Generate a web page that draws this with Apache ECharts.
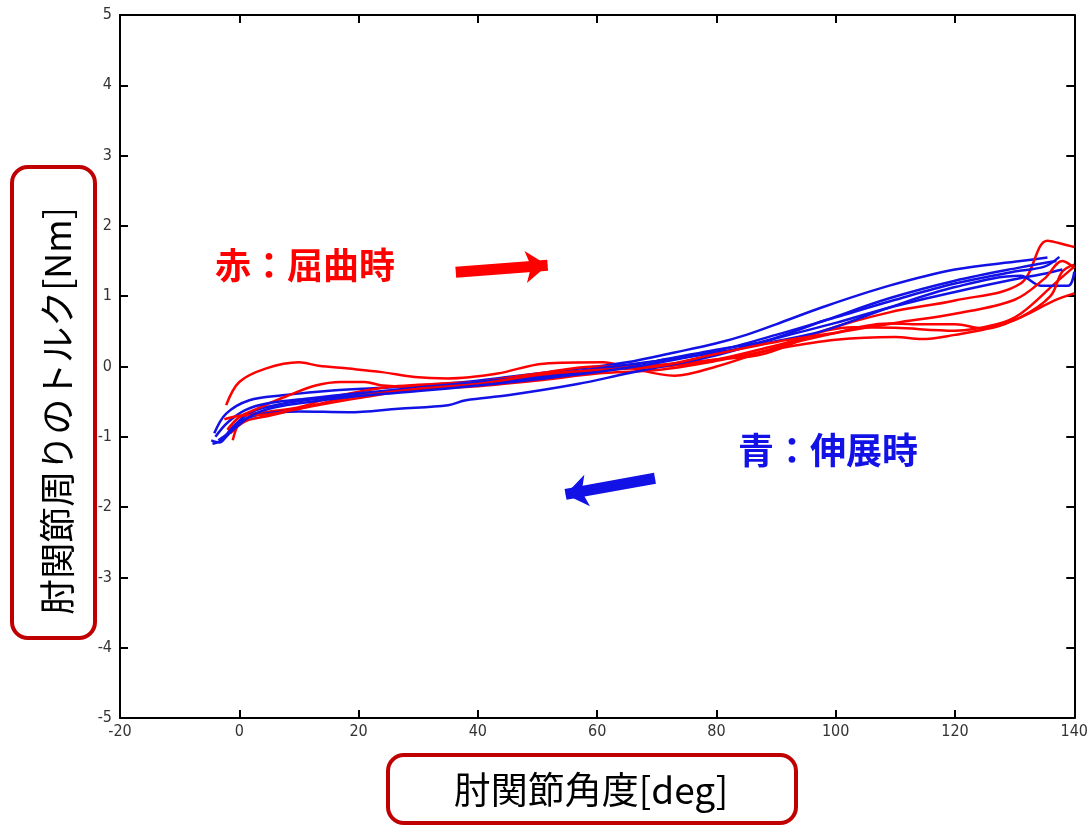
<!DOCTYPE html>
<html><head><meta charset="utf-8">
<script src="https://cdn.jsdelivr.net/npm/echarts@6/dist/echarts.min.js"></script>
<style>html,body{margin:0;padding:0;background:#fff}#c{width:1091px;height:826px}</style>
</head><body><div id="c"></div>
<script>
// ---- data (angle [deg], torque [Nm]) ----
const blue1 = [[-4.2,-0.95],[-2.2,-0.67],[1.7,-0.48],[7.2,-0.41],[15.6,-0.34],[26.7,-0.29],[37.8,-0.22],[45,-0.15],[55,-0.05],[65,0.06],[73,0.2],[80,0.33],[85,0.45],[90,0.6],[98,0.85],[109,1.15],[120,1.38],[131,1.5],[135.5,1.55]];
const blue2 = [[-4.5,-1.1],[-3,-1.05],[-1,-0.85],[2,-0.65],[6,-0.55],[12,-0.47],[20,-0.4],[30,-0.33],[40,-0.25],[50,-0.16],[60,-0.06],[70,0.08],[80,0.24],[88,0.36],[98,0.65],[109,0.97],[120,1.22],[131,1.41],[137,1.5]];
const blue3 = [[-4,-1.0],[-2,-0.8],[1,-0.62],[5,-0.52],[12,-0.45],[20,-0.38],[30,-0.3],[40,-0.22],[50,-0.13],[60,-0.03],[70,0.08],[80,0.2],[90,0.36],[98,0.51],[109,0.84],[120,1.13],[131,1.29],[134.4,1.15],[139,1.15],[140,1.35]];
const blue4 = [[-4.7,-1.05],[-3.3,-1.08],[-2.2,-1.0],[0.5,-0.77],[4.4,-0.67],[10,-0.64],[18.3,-0.65],[26.7,-0.6],[35,-0.55],[38,-0.48],[45,-0.41],[56.7,-0.25],[65,-0.1],[73.3,0.04],[80,0.16],[90,0.4],[100,0.62],[110,0.86],[120,1.06],[130,1.24],[135,1.32],[138,1.38]];
const blue5 = [[-3.5,-1.05],[-1,-0.9],[2,-0.7],[6,-0.58],[12,-0.5],[20,-0.42],[30,-0.35],[40,-0.27],[50,-0.18],[60,-0.08],[70,0.05],[80,0.22],[90,0.45],[100,0.7],[110,0.95],[120,1.18],[130,1.35],[135,1.42],[137.5,1.56]];
const red1 = [[-2.2,-0.55],[0,-0.22],[4.4,-0.03],[10,0.06],[13.3,0.01],[18.3,-0.03],[23.9,-0.08],[29.4,-0.15],[35,-0.17],[43.3,-0.1],[51,0.04],[61,0.06],[65,-0.01],[73,-0.13],[80,0.0],[90,0.27],[98,0.44],[109,0.61],[115,0.6],[120,0.6],[125,0.54],[131,0.7],[136.7,0.94],[140,1.04]];
const red2 = [[-1.1,-1.05],[0.6,-0.72],[4.4,-0.65],[10,-0.58],[15,-0.45],[20,-0.36],[25,-0.29],[30,-0.26],[37,-0.23],[43,-0.22],[50,-0.15],[60,-0.05],[70,0.02],[80,0.1],[88,0.18],[98,0.51],[109,0.77],[120,0.94],[131,1.18],[135.5,1.79],[139,1.72],[140,1.7]];
const red3 = [[-2,-0.9],[0,-0.72],[3,-0.6],[8,-0.42],[12.8,-0.27],[17,-0.22],[21,-0.22],[24,-0.27],[30,-0.29],[40,-0.22],[50,-0.1],[60,0.0],[70,0.0],[80,0.1],[90,0.3],[103,0.56],[110,0.55],[120,0.51],[127,0.6],[131,0.75],[137,1.2],[140,1.42]];
const red4 = [[-1.5,-0.95],[1,-0.78],[5,-0.7],[10,-0.6],[15,-0.5],[20,-0.42],[30,-0.32],[40,-0.28],[50,-0.2],[60,-0.1],[70,-0.05],[80,0.08],[90,0.25],[100,0.38],[110,0.42],[114.4,0.39],[120,0.45],[125.5,0.54],[131,0.7],[136,1.0],[138,1.35],[140,1.45]];
const red5 = [[-2.5,-0.75],[0,-0.7],[5,-0.68],[10,-0.6],[20,-0.45],[30,-0.32],[40,-0.25],[50,-0.12],[60,-0.05],[70,0.0],[80,0.18],[90,0.35],[100,0.48],[110,0.62],[120,0.75],[130,0.95],[135,1.25],[138,1.5],[140,1.4]];
const redCurves = [red1, red2, red3, red4, red5];
const blueCurves = [blue1, blue2, blue3, blue4, blue5];
const redArrow = [[36.3, 1.34], [51.7, 1.44]];
const blueArrow = [[69.7, -1.59], [54.7, -1.82]];
const xTitle = '肘関節角度[deg]';
const yTitle = '肘関節周りのトルク[Nm]';
const redNote = '赤：屈曲時';
const blueNote = '青：伸展時';

const RED = '#ff0000', BLUE = '#1212e6', BOX = '#c00000';
const chart = echarts.init(document.getElementById('c'));
const tickFont = {fontFamily: '"DejaVu Sans Condensed","Liberation Sans Narrow",sans-serif', fontSize: 16, color: '#333'};
const axisLine = {show: true, onZero: false, lineStyle: {color: '#000', width: 2}};
const axisTick = {show: true, inside: true, length: 8, lineStyle: {color: '#000', width: 2}};
const titleFont = '36px "Noto Sans CJK JP", sans-serif';
const noteFont = 'bold 36px "Noto Sans CJK JP", sans-serif';

function lineSeries(data, color, arrow) {
  const s = {type: 'line', data: data, smooth: 0.35, showSymbol: false, silent: true,
    lineStyle: {color: color, width: 2.5}, itemStyle: {color: color}, z: 3};
  if (arrow) {
    s.markLine = {silent: true, symbol: ['none', 'arrow'], symbolSize: [24, 22],
      label: {show: false}, lineStyle: {color: color, width: 11, type: 'solid'},
      emphasis: {disabled: true},
      data: [[{coord: arrow[0]}, {coord: arrow[1]}]]};
  }
  return s;
}
const series = [];
for (let i = 0; i < 5; i++) {
  series.push(lineSeries(redCurves[i], RED, i === 0 ? redArrow : null));
  series.push(lineSeries(blueCurves[i], BLUE, i === 0 ? blueArrow : null));
}

chart.setOption({
  animation: false,
  backgroundColor: '#fff',
  grid: {left: 120, right: 11, top: 15, bottom: 108},
  xAxis: [
    {type: 'value', min: -20, max: 140, interval: 20, position: 'bottom',
     axisLine, axisTick, splitLine: {show: false}, axisLabel: Object.assign({margin: 6}, tickFont)},
    {type: 'value', min: -20, max: 140, interval: 20, position: 'top',
     axisLine, axisTick, splitLine: {show: false}, axisLabel: {show: false}}
  ],
  yAxis: [
    {type: 'value', min: -5, max: 5, interval: 1, position: 'left',
     axisLine, axisTick, splitLine: {show: false}, axisLabel: Object.assign({margin: 8}, tickFont)},
    {type: 'value', min: -5, max: 5, interval: 1, position: 'right',
     axisLine, axisTick, splitLine: {show: false}, axisLabel: {show: false}}
  ],
  graphic: [
    {type: 'rect', shape: {x: 12, y: 167, width: 83, height: 471, r: 16},
     style: {fill: 'none', stroke: BOX, lineWidth: 4}},
    {type: 'text', x: 57, y: 411, rotation: Math.PI / 2,
     style: {text: yTitle, fill: '#000', align: 'center', verticalAlign: 'middle', font: titleFont}},
    {type: 'rect', shape: {x: 388, y: 755, width: 408, height: 68, r: 16},
     style: {fill: 'none', stroke: BOX, lineWidth: 4}},
    {type: 'text', x: 591, y: 790,
     style: {text: xTitle, fill: '#000', align: 'center', verticalAlign: 'middle', font: '37px "Noto Sans CJK JP", sans-serif'}},
    {type: 'text', x: 305, y: 265, style: {text: redNote, fill: RED, align: 'center', verticalAlign: 'middle', font: noteFont}},
    {type: 'text', x: 828, y: 450, style: {text: blueNote, fill: BLUE, align: 'center', verticalAlign: 'middle', font: noteFont}}
  ],
  series: series
});
</script>
</body></html>
